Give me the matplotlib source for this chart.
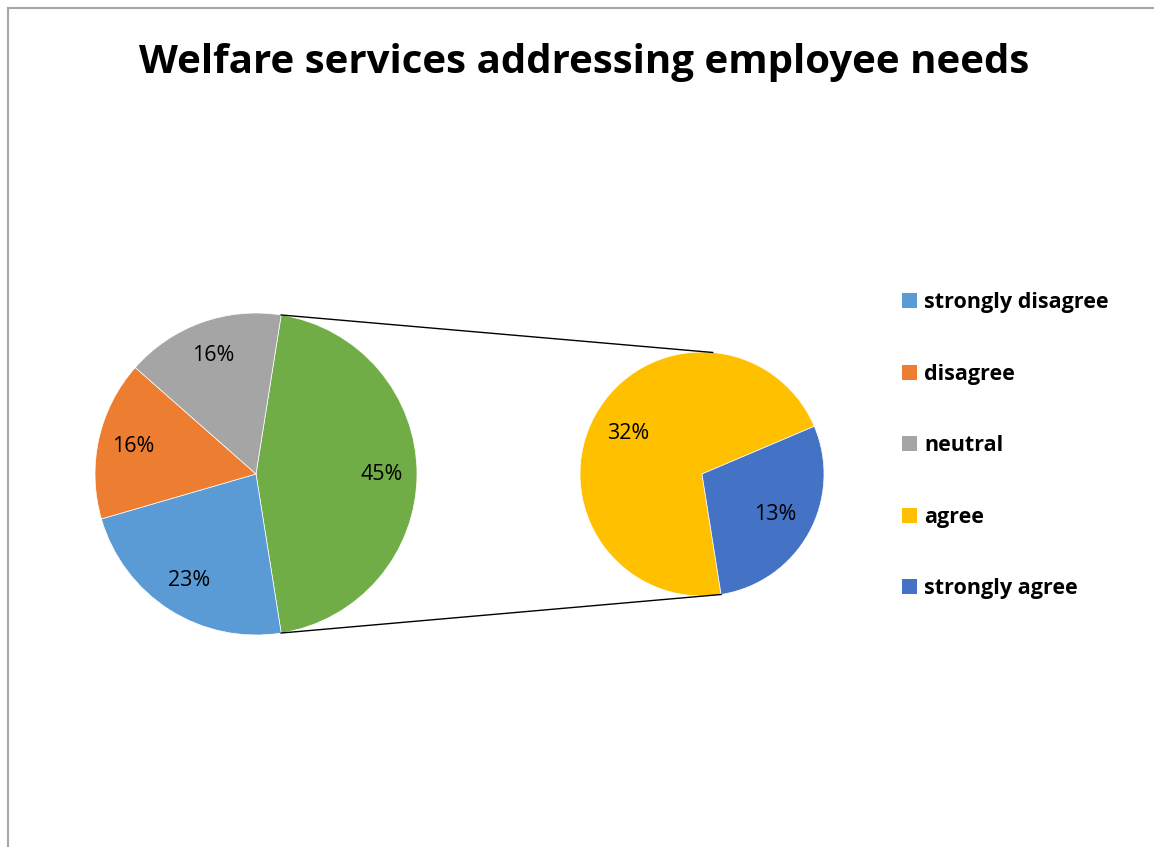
import numpy as np
import matplotlib
matplotlib.use('Agg')
import matplotlib.pyplot as plt
from matplotlib.lines import Line2D
from matplotlib.patches import Patch

plt.rcParams['font.family'] = ['Open Sans', 'DejaVu Sans']

# survey answers, percent of respondents
categories = ['strongly disagree', 'disagree', 'neutral', 'agree', 'strongly agree']
shares = [23, 16, 16, 32, 13]
colors = ['#5B9BD5', '#ED7D31', '#A5A5A5', '#FFC000', '#4472C4']
other_color = '#70AD47'

# the last two go into the small pie, their total is the "other" slice
main_vals = [shares[3] + shares[4]] + shares[:3]
main_cols = [other_color] + colors[:3]
sub_vals = shares[3:]
sub_cols = colors[3:]

W, H = 1154, 847
fig = plt.figure(figsize=(W / 100, H / 100), dpi=100)
ax = fig.add_axes([0, 0, 1, 1])

c1, r1 = (256, 373), 161
c2, r2 = (702, 373), 122

half = main_vals[0] * 360 / 100 / 2
w1, _, t1 = ax.pie(main_vals, colors=main_cols, center=c1, radius=r1,
                   startangle=half, counterclock=False,
                   autopct='%.0f%%', pctdistance=0.78,
                   wedgeprops=dict(edgecolor='white', linewidth=0.5),
                   textprops=dict(fontsize=15.5, color='black'))
w2, _, t2 = ax.pie(sub_vals, colors=sub_cols, center=c2, radius=r2,
                   startangle=-half, counterclock=False,
                   autopct=lambda p: f'{p * sum(sub_vals) / 100:.0f}%',
                   pctdistance=0.69,
                   wedgeprops=dict(edgecolor='white', linewidth=0.5),
                   textprops=dict(fontsize=15.5, color='black'))

# pie() resets the limits, so set them afterwards
ax.set_xlim(0, W)
ax.set_ylim(0, H)
ax.set_aspect('equal')
ax.axis('off')

# connector lines between the two pies
for a1, a2 in [(half, 85), (-half, -half)]:
    x0 = c1[0] + r1 * np.cos(np.radians(a1))
    y0 = c1[1] + r1 * np.sin(np.radians(a1))
    x1 = c2[0] + r2 * np.cos(np.radians(a2))
    y1 = c2[1] + r2 * np.sin(np.radians(a2))
    ax.plot([x0, x1], [y0, y1], color='black', lw=1)

ax.text(584, 785, 'Welfare services addressing employee needs',
        ha='center', va='center', fontsize=29, fontweight='bold')

handles = [Patch(facecolor=c, edgecolor='none') for c in colors]
fig.legend(handles, categories, loc='upper left', bbox_to_anchor=(0.765, 0.678),
           frameon=False, handlelength=0.7, handleheight=0.7, handletextpad=0.33,
           labelspacing=2.35, prop=dict(size=15.5, weight='bold'))

# chart area border (left and top edges)
fig.add_artist(Line2D([8 / W, 8 / W], [0, 1 - 8 / H], color='#A6A6A6', lw=1.5,
                      transform=fig.transFigure))
fig.add_artist(Line2D([8 / W, 1], [1 - 8 / H, 1 - 8 / H], color='#A6A6A6', lw=1.5,
                      transform=fig.transFigure))

fig.savefig('out.png', dpi=100)
